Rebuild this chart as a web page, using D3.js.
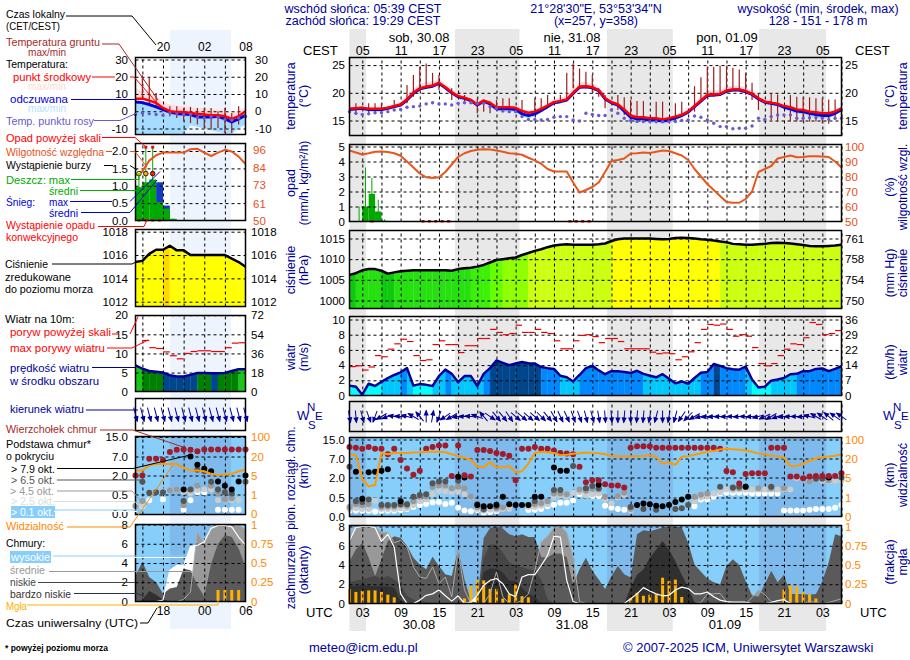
<!DOCTYPE html>
<html>
<head>
<meta charset="utf-8">
<script src="https://cdn.jsdelivr.net/npm/d3@7"></script>
<style>
body{margin:0;background:#fff}
svg{display:block}
text{font-family:"Liberation Sans",Arial,sans-serif}
</style>
</head>
<body>
<svg id="chart" width="910" height="660"></svg>
<script>
//---- main panel data, one value per hour from 01 UTC 30.08 ----
var localTicks = ['05','11','17','23','05','11','17','23','05','11','17','23','05'];
var utcTicks = ['03','09','15','21','03','09','15','21','03','09','15','21','03'];
var nights = [[0,2.6],[16.5,26.6],[40.3,50.6],[64.1,74.6]];

var temp = [17.1,17.2,17.3,17.1,17.1,17.1,17.3,17.6,17.9,18.8,
	20.0,20.8,21.1,21.3,21.8,21.0,20.1,19.4,19.1,18.7,
	17.9,18.6,18.2,17.4,17.4,17.4,17.3,16.7,16.4,16.6,
	17.1,17.7,18.3,18.5,18.8,20.0,21.1,21.2,21.0,20.5,
	19.0,18.3,17.9,17.0,15.9,15.6,15.6,15.4,15.4,15.2,
	15.4,15.7,16.0,16.6,17.6,18.6,19.6,19.7,19.8,20.4,
	20.6,20.6,20.3,19.8,19.0,18.4,18.2,18.0,17.6,17.4,
	17.0,16.9,16.6,16.5,16.3,16.3,16.6,17.2];
var tempHi = [17.4,17.5,17.6,17.4,17.4,17.4,17.7,18.0,18.4,19.5,
	20.8,21.6,21.9,22.1,22.5,21.7,20.7,19.9,19.5,19.0,
	18.2,18.9,18.5,17.7,17.7,17.7,17.6,17.0,16.8,17.0,
	17.6,18.2,18.8,19.1,19.5,20.8,21.9,22.0,21.7,21.1,
	19.5,18.7,18.3,17.3,16.2,15.9,15.9,15.7,15.7,15.5,
	15.7,16.1,16.5,17.2,18.3,19.4,20.4,20.5,20.6,21.1,
	21.3,21.3,21.0,20.4,19.5,18.9,18.7,18.4,18.0,17.7,
	17.3,17.2,16.9,16.8,16.6,16.6,17.0,17.6];
var feel = [17.0,17.1,17.2,17.0,17.0,17.0,17.2,17.5,17.8,18.7,
	19.9,20.7,21.0,21.2,21.7,20.9,20.0,19.3,19.0,18.6,
	17.8,18.5,18.0,17.1,17.1,17.1,17.0,16.2,15.9,16.2,
	16.8,17.5,18.2,18.4,18.7,19.9,21.0,21.1,20.9,20.4,
	18.9,18.2,17.8,16.7,15.6,15.3,15.3,15.1,15.1,14.9,
	15.1,15.5,15.9,16.5,17.5,18.5,19.5,19.6,19.7,20.3,
	20.5,20.5,20.2,19.7,18.9,18.3,18.1,17.9,17.4,17.1,
	16.7,16.6,16.3,16.1,15.9,15.9,16.3,17.0];
var feelLo = [16.6,16.7,16.8,16.6,16.6,16.6,16.9,17.2,17.5,18.4,
	19.6,20.4,20.7,20.9,21.4,20.6,19.7,19.0,18.7,18.3,
	17.5,18.2,17.6,16.7,16.6,16.6,16.5,15.7,15.4,15.7,
	16.4,17.2,17.9,18.1,18.4,19.6,20.7,20.8,20.6,20.1,
	18.6,17.9,17.5,16.3,15.1,14.8,14.8,14.6,14.6,14.4,
	14.6,15.0,15.5,16.2,17.2,18.2,19.2,19.3,19.4,20.0,
	20.2,20.2,19.9,19.4,18.6,18.0,17.7,17.5,17.0,16.6,
	16.2,16.1,15.8,15.6,15.4,15.4,15.9,16.6];
var dewPoint = [16.6,16.3,16.1,16.2,16.4,16.4,16.6,16.9,17.0,17.4,
	17.5,17.6,18.0,18.2,18.0,18.0,17.8,18.1,18.2,18.2,
	18.1,18.1,17.5,17.2,16.7,16.6,16.6,15.7,15.2,15.2,
	15.1,15.2,15.6,15.7,15.7,15.1,14.9,16.3,16.1,15.9,
	15.9,16.9,16.3,15.4,15.0,14.8,14.8,14.8,14.8,14.8,
	14.8,14.8,15.0,15.1,15.8,15.6,15.1,14.5,13.9,13.9,
	13.5,13.6,13.6,14.0,15.4,15.2,15.7,16.0,16.0,16.0,
	15.4,15.4,15.5,15.5,15.4,15.2,15.4,15.4];
// hour, max, min
var groundTemp = [[1,18.1,16.0],[3,18.1,16.3],[4,18.1,16.3],[5,18.1,16.6],[7,18.7,17.5],[9,21.4,18.1],[10,23.2,19.3],
	[11,24.7,20.8],[12,25.3,20.8],[13,23.6,21.1],[14,23.2,20.5],[16,20.8,18.7],[18,19.6,18.1],[20,19.0,16.3],
	[21,18.4,16.6],[22,18.4,16.3],[23,18.7,16.9],[24,19.0,16.9],[25,19.0,16.9],[27,18.7,16.0],[29,19.0,16.3],
	[30,19.0,16.9],[31,19.6,17.8],[33,19.6,18.7],[34,23.6,18.7],[35,25.3,20.8],[36,24.4,20.8],[37,23.8,20.8],
	[38,23.2,20.2],[39,20.8,19.3],[40,19.6,17.2],[42,19.6,16.9],[43,19.2,16.0],[44,18.7,14.8],[45,18.5,14.8],
	[46,18.5,14.8],[48,18.4,14.5],[49,18.4,14.5],[51,18.1,14.8],[52,18.4,16.0],[54,21.2,16.6],[55,22.8,18.7],
	[56,24.7,19.3],[57,24.7,19.3],[58,24.9,19.6],[59,24.9,20.2],[60,24.5,20.8],[61,24.2,20.5],[62,23.6,19.6],
	[63,21.8,18.7],[64,19.9,16.9],[66,19.9,15.1],[67,19.7,14.8],[69,19.6,14.8],[70,19.3,14.8],[71,19.3,14.8],
	[72,19.2,14.8],[73,19.0,14.8],[74,19.0,14.5],[75,18.8,14.4],[76,18.8,15.1],[77,17.4,16.0]];

var humidity = [97.3,96,94.7,95.5,96.5,96.7,96.3,95.5,93.8,90,
	86,82,79.5,79,79.5,83,88,93,95.5,97,
	97.8,98.2,98,97.3,96.5,95.5,95.2,94.5,92.5,90.7,
	88.5,85,83.3,83.3,83.3,76,69.3,71,73,76,
	83,90.4,91,92,95.3,95.5,96,95.7,96.5,97.3,
	97,95.5,94,91,85,80,75,71,67,63,
	62.5,62.5,65,70,83,85,87,92,93,94,
	92.8,93,93.5,93.5,93.3,93,90,86];
// hour, mean, max
var rain = [[1,0,1.0],[2,1.0,3.6],[3,1.85,2.9],[4,0.67,1.45],[5,0.05,0.15]];
var convective = [3,11,12,13,14,15,34,35,36,37];

var pressure = [1006.2,1006.6,1007.3,1007.6,1007.6,1007.2,1006.5,1006.8,1007.1,1007.2,
	1007.3,1007.3,1007.3,1007.3,1007.3,1007.3,1007.2,1007.6,1007.8,1007.9,
	1008.2,1008.6,1009.2,1009.8,1010,1010.2,1010.4,1011,1011.5,1012,
	1012.4,1012.9,1013.3,1013.5,1013.6,1013.5,1013.5,1013.5,1013.5,1013.6,
	1013.8,1014.4,1014.8,1015,1015,1015,1015,1015,1014.9,1014.8,
	1014.9,1015.1,1015.2,1015.1,1015,1014.8,1014.7,1014.5,1014.3,1014.1,
	1013.7,1013.6,1013.5,1013.5,1013.6,1013.7,1013.9,1014,1013.9,1013.8,
	1013.6,1013.4,1013.2,1013.1,1013.1,1013.2,1013.3,1013.5];

var wind = [1.3,1.15,0.1,1.55,1.25,1.8,2.3,2.7,3.05,3.6,
	1.3,1.5,1.4,1.25,2.55,3.4,2.85,1.75,2.55,2.55,
	1.25,2.85,3.6,4.6,4.3,4.0,4.2,4.4,4.25,4.2,
	3.75,3.6,3.5,2.6,2.4,1.85,2.7,3.6,3.9,3.3,
	2.8,3.2,3.2,3.1,2.95,3.25,2.85,2.6,2.4,2.8,
	2.2,1.6,1.85,1.55,2.3,3.0,3.1,4.15,3.9,3.6,
	3.45,3.4,3.8,2.1,1.05,1.15,1.95,2.1,2.3,2.8,
	2.85,3.2,3.2,3.5,3.55,3.2,3.5,3.85];
var gust = [3.8,3.9,3.35,3.75,5.25,5.1,6.1,6.8,7.4,7.1,
	5.25,4.6,4.7,6.7,7.2,6.7,6.7,5.65,6.55,6.55,
	7.5,7.5,8.7,8.3,8.0,8.15,9.25,8.3,8.3,8.7,
	8.3,8.15,7.2,6.15,6.15,7.2,7.9,8.0,7.75,6.95,
	7.5,7.5,7.1,6.15,6.15,6.15,6.15,5.7,5.5,5.6,
	5.5,4.7,5.1,5.75,6.95,8.7,9.35,9.25,9.4,8.7,
	7.8,8.0,7.8,6.3,4.2,3.9,4.2,5.25,6.1,6.8,
	6.7,7.6,9.6,9.35,8.0,8.15,8.55];
// bearing the arrow points to
var windTo = [170,175,165,160,200,240,250,280,275,285,
	300,320,0,10,200,235,240,260,270,275,
	290,320,125,140,140,145,130,130,130,130,
	135,140,150,155,155,160,160,165,165,170,
	175,175,180,185,180,185,185,190,195,180,
	190,195,215,225,240,255,262,265,268,268,
	270,265,270,265,255,245,240,250,262,268,
	270,265,285,300,305,310,305,305];

var cloudTop = [11.8,11.5,11.1,11.8,11.1,11.1,8.8,11.1,6.6,4.4,
	2.7,3.8,11.1,11.8,12.5,12.5,2.4,12.5,2.6,2.25,
	10.6,10.6,10.2,9.3,8.9,8.2,1.8,11.1,11.1,11.8,
	11.1,11.1,10.4,9.3,9.1,8.8,4.8,1.65,1.8,1.8,
	1.5,1.4,1.4,1.25,11.5,12.2,12.2,12.2,11.5,11.5,
	11.5,11.5,11.5,11.5,11.5,11.5,11.5,11.5,11.1,3.7,
	3.4,1.55,2.9,3.1,3.1,3.1,11.5,11.5,11.5,2.25,
	2.25,1.95,2.25,2.4,2.4,2.4,2.4,3.1];
// hour, cloud base in km
var base79 = [[1,3.5],[2,.47],[3,3.4],[4,3.5],[5,3.8],[6,4.15],[8,.4],[17,2.2],[18,2.0],[20,.3],[21,.27],[22,.27],[23,.31],
	[24,.55],[25,.32],[26,.3],[27,.3],[28,.3],[29,.55],[30,.55],[32,4.6],[33,3.8],[34,3.8],[39,1.45],[45,.3],[46,.34],
	[47,.32],[48,.28],[49,.27],[50,.3],[51,.38],[52,.45],[53,.55],[62,1.3],[75,2.0]];
var base65 = [[0,4.85],[1,.4],[2,.38],[3,.45],[5,.3],[6,.3],[7,.3],[8,.32],[9,.32],[10,.55],[11,.68],[12,.75],[13,1.57],
	[14,1.7],[15,1.7],[17,1.75],[20,.32],[21,.2],[23,.27],[29,.4],[32,1.06],[33,1.06],[35,5.0],[37,1.2],[38,1.37],[39,1.2],
	[44,.25],[46,.2],[48,.18],[51,.2],[52,.22],[53,.3],[58,1.3],[60,1.25],[61,1.3],[62,1.3],[66,1.3],[73,1.9],[74,1.9],[77,2]];
var base45 = [[0,.25],[1,.32],[2,.3],[3,.32],[5,.25],[6,.26],[7,.26],[8,.3],[9,.28],[10,.4],[11,.55],[12,.58],[13,1.3],
	[14,1.4],[15,1.4],[16,1.2],[17,1.3],[18,1.2],[19,.55],[20,.25],[21,.18],[23,.22],[24,.24],[28,.3],[29,.32],[30,.35],
	[31,.4],[32,.8],[33,.8],[34,.75],[36,1.1],[37,1.0],[38,1.15],[39,1.1],[40,.55],[42,.6],[43,.85],[44,.2],[54,.55],
	[55,.7],[56,.8],[60,1.2],[61,1.2],[64,1.2],[66,1.2],[68,1.2],[72,1.7],[75,1.8]];
var base25 = [[0,.2],[1,.22],[2,.2],[3,.2],[4,.42],[5,.2],[6,.2],[7,.2],[8,.22],[9,.22],[10,.3],[11,.4],[12,.45],[13,.75],
	[14,1.0],[15,.95],[16,.9],[17,.95],[18,.75],[19,.5],[20,.2],[21,.15],[22,.18],[23,.18],[24,.2],[25,.2],[28,.25],[29,.25],
	[30,.28],[31,.32],[32,.55],[33,.65],[34,.6],[35,.85],[36,.9],[37,.65],[38,.75],[39,.8],[40,.45],[41,.35],[42,.5],[43,.7],
	[44,.15],[54,.4],[55,.5],[56,.55],[57,.8],[58,.9],[59,1.1],[60,1.05],[61,1.1],[62,1.1],[63,1.1],[64,1.1],[65,1.1],
	[66,1.1],[67,1.1],[68,1.1],[69,1.1],[70,1.95],[72,1.8],[74,1.75],[75,1.75],[76,1.75],[77,1.8]];
var base01 = [[0,.15],[1,.15],[2,.15],[3,.15],[4,.13],[5,.15],[6,.15],[7,.15],[8,.17],[9,.2],[10,.25],[11,.3],[12,.33],[13,.37],
	[14,.38],[15,.33],[16,.36],[17,.23],[18,.16],[19,.14],[20,.17],[21,.1],[22,.12],[23,.14],[28,.17],[29,.18],[30,.2],
	[31,.27],[32,.31],[33,.36],[34,.36],[35,.42],[36,.72],[37,.68],[38,.62],[39,.6],[40,.28],[41,.23],[42,.2],[43,.18],
	[54,.27],[55,.45],[56,.45],[57,.55],[58,.8],[59,.85],[60,.85],[61,.85],[62,.85],[63,.8],[64,.8],[65,.8],[66,.8],[67,.8],
	[68,.16],[69,.16],[70,.16],[71,.16],[72,.18],[73,.2],[74,.2],[75,.2],[76,.23],[77,.3]];
var visibility = [37,34,4.7,3.2,3.5,43,38,43,43,43,
	45,46,48,48,48,46,38,31,23,19,
	13.5,13,17,13,13,14,9,10,16,43,
	48,46,43,34,36,40,42,45,43,42,
	38,30,29,28,30,30,31,34,27,16,
	17,15,27,30,36,42,48,52,58,61,
	59,57,54,48,41,37,32,30,23,14,
	14,16,18,21,25,28,32,37];

var coverHigh = [6.55,7.9,8,8,7.9,6.45,7.2,5.85,1.0,0,
	0,.35,.85,1.0,1.4,.8,.25,.8,0,.15,
	.85,1.9,2.4,2.6,2.05,1.0,.7,2.75,3.0,3.0,
	3.95,5,7,6.9,2.4,.2,0,0,0,0,
	0,0,0,0,.5,1,1.65,1.3,1,.8,
	.85,1.4,1.7,1.55,1,1,1.2,.7,.35,.2,
	.15,.15,.15,0,0,0,.1,.3,.4,0,
	0,0,0,0,0,0,0,0];
var coverMid = [6.9,7.9,8,8,8,7.4,7.4,6.3,6.55,5.9,
	3.8,2.75,2.6,3.8,2.05,2.75,.7,5.5,1.4,0,
	0,0,1,3.3,.7,0,0,.35,1,3.45,
	6.4,7,7.9,8,7.4,4.8,.2,0,0,0,
	0,0,0,0,0,0,0,0,0,0,
	0,0,0,0,0,.1,1,1,1.05,.2,
	0,0,0,.6,1.4,.9,.2,.1,0,0,
	0,0,.2,.1,0,.1,.3,.5];
var coverLow = [4.4,5.6,6.3,4.75,2.85,4.6,6.5,7.0,6.8,6.0,
	4.75,4.05,3.55,4.85,3.9,3.05,2.85,5.6,2.5,.2,
	.1,6.8,7.85,8,7.8,7.2,7.0,7.2,6.9,6.9,
	4.8,4.8,5.2,5.2,4.8,1.9,3.55,4.75,3.4,2.5,
	1.5,2.85,3.9,3.05,2.7,7.2,7.6,7.5,7.7,7.9,
	8,8,7.9,6.3,4.05,3.3,2.6,2.2,2.0,3.9,
	4.6,4.0,2.3,.85,.7,2.0,3.4,2.2,3.0,1.0,
	1.0,1.0,.9,1.0,2.3,4.3,7.2,7.0];
var coverLower = [2.2,2.4,2.5,2.7,2.85,2.6,2.85,2.5,2.0,.8,
	.4,.3,.1,0,0,0,0,0,0,0,
	0,4.75,6.1,6.1,5.3,4.25,3.9,3.8,3.55,3.4,
	2.5,.45,0,0,0,0,0,0,0,0,
	0,0,0,0,0,0,0,0,0,0,
	0,0,0,0,0,0,0,0,0,0,
	0,0,0,0,0,0,0,0,0,0,
	0,0,0,0,0,0,0,0];
var coverVeryLow = [1.75,1.85,1.9,1.85,1.8,1.8,1.8,1.6,.3,0,
	0,0,0,0,0,0,0,0,0,0,
	0,3.3,3.6,3.6,3.2,2.4,2.3,1.6,1.0,.7,
	0,0,0,0,0,0,0,0,0,0,
	0,0,0,0,1.65,3,3.55,4.75,5.6,6.5,
	5.6,4.4,3,1.65,.1,0,0,0,0,0,
	0,0,0,0,0,0,0,0,0,0,
	0,0,0,0,0,0,0,0];
// hour, fog fraction
var fog = [[0,.19],[1,.15],[2,.165],[3,.17],[4,.17],[5,.15],[6,.115],[7,.08],[18,.065],[19,.225],[20,.3],[21,.3],[22,.19],
	[23,.19],[24,.065],[25,.12],[26,.25],[27,.095],[28,.08],[44,.065],[45,.14],[46,.1],[47,.115],[48,.12],[49,.335],
	[50,.29],[51,.31],[52,.085],[68,.18],[69,.24],[70,.225],[71,.15],[72,.12],[73,.065]];

//---- left legend panel data, one value per hour from 14 UTC 29.08 ----
var tempL = [7.3,7.3,6.2,4.8,1.9,0,-0.4,-0.4,-1,-1.5,-1.9,-2.3,-2.3,-2.9,-4.4,-2.9,0];
var tempHiL = [13.5,11.6,10.6,8.7,5.8,3.9,3.4,2.9,2.5,1.9,1.9,1.4,1.0,1.0,-1,0.5,1.9];
var feelL = [5.4,5.0,3.9,2.5,1,-.4,-1.4,-1.6,-1.9,-3.3,-3.3,-3.3,-2.9,-4.4,-6.2,-4.4,-2.3];
var feelLoL = [-13,-13,-13,-13,-13,-13,-13,-13,-8,-9,-10,-11,-12,-12.8,-13,-10,-7.7];
var dewL = [-1.9,-1,-1.5,-1.9,-2.3,-1,-1.5,-1.9,-1.9,-3.5,-3.9,-3.3,-3.5,-4.8,-5.2,-3.9,-3];
var groundL = [[1,20.9,6.8],[2,19.3,4.8],[3,10.6,2.9],[5,2.9,-2.9],[6,2.9,-3.9],[7,1.9,-5.8],[8,2.5,-6.8],[9,1.9,-7.7],
	[10,1.9,-9.7],[11,1.9,-10.6],[12,0,-9.7],[13,1.9,-12.6],[14,-1,-12.6],[15,2.9,-7.7]];
var humidityL = [79.6,82,89,92.5,94.2,94.2,94.2,94.2,96.4,96.7,94.2,92,94.2,96,94.9,91.6,86.8];
var rainL = [[0,.96,1.35],[1,1.1,2.12],[2,1.18,2.12],[3,.53,.53],[4,.34,.34],[5,.05,.05]];
var snowL = [[3,1.1],[4,.43]];
var aboveScaleL = [1,2];
var stormsL = [[0,'#ffff00'],[1,'#ffaa00'],[2,'#ff2200']];
var convectiveL = [0,1,2,3];
var pressureL = [1015.4,1015.5,1016.1,1016.45,1016.45,1016.8,1016.4,1016.4,1016,1016,1016,1016,1016,1016,1015.7,1015.4,1015];
var windL = [6.9,6,5.4,5.2,5,4.3,4,4,4.4,4.9,4.9,4.8,4.8,4.9,5.4,5.9,5.9];
var gustL = [null,13.4,11.5,11.3,10.4,9.4,8.6,10,10.5,10.7,10.7,10.5,10.5,11.5,12.7,12.8];
var windToL = [165,165,165,165,165,165,165,165,165,165,165,165,165,165,165,165,165];
var cloudTopL = [2,2,6.4,6.4,6.1,8.8,9.75,9.9,9.75,9.2,9.9,9.9,9.9,9.9,9.9,9.9,9.9];
var base79L = [[7,.89],[8,7],[9,4.8],[10,3.75],[11,3.1],[12,1.53],[13,1.2],[14,.9],[15,1.53],[16,2]];
var base65L = [[1,1.5],[2,.63],[3,.68],[4,.68],[7,.33],[8,.9],[9,3.5],[10,3.1],[11,1.5],[12,.9],[13,.68],[14,.57],[16,1.5]];
var base45L = [[0,.2],[1,.33],[5,.83],[6,.9],[7,.22],[9,1.2],[11,1.2],[12,.57],[13,.37],[14,.4]];
var base25L = [[0,.2],[1,.22],[3,.68],[4,.75],[5,.86],[6,.9],[7,.7],[8,.57],[9,.85],[10,.9],[11,.9],[12,.35],[13,.35],[14,.35],[15,.35]];
var base01L = [[1,.2],[2,.35],[4,.37],[7,.1],[8,.35],[9,.68],[10,.68],[12,.1],[13,.1],[14,.1],[15,.1]];
var visibilityL = [9,9,13,14,14,14,14,11,9,9,8.4,6.3,5.5,5.8,6.3,8.4,9.5];
var coverHighL = [0,0,0,0,.15,3.25,3.75,3.75,5.7,5.85,6.2,7.6,7.9,7.9,7.75,6.7,5.85];
var coverMidL = [0,0,0,0,0,0,0,.2,1,7.2,6,7.7,7.9,8,8,7.9,7.5];
var coverLowL = [2.7,4.1,2.55,2,.8,1.35,1.5,3.4,3.25,1.7,.5,3.95,6,6.9,6.7,5.5,3.6];
var coverVeryLowL = [0,.1,1.1,.7,.2,0,0,0,0,0,0,0,0,0,0,0,0];
var fogL = [[12,.15],[13,.15],[14,.15],[15,.15]];

var svg = d3.select('#chart');

//---- scales ----
var x = d3.scaleLinear().domain([0,77]).range([349.5,841.5]);
var xL = d3.scaleLinear().domain([0,16]).range([135.5,245.5]);

var main = {
	x:x, xTicks:d3.range(2,78,3),
	temp:d3.scaleLinear().domain([15,25]).range([120.5,65.1]),
	rh:d3.scaleLinear().domain([50,100]).range([221.5,146.5]),
	rain:d3.scaleLinear().domain([0,5]).range([221.5,146.5]),
	pres:d3.scaleLinear().domain([1000,1015]).range([300.5,238.5]),
	wind:d3.scaleLinear().domain([0,10]).range([395.5,319.5]),
	cloud:d3.scaleLinear().domain([0,.5,2,7,15]).range([516.5,497.5,477.5,458.5,439.5]),
	vis:d3.scaleLinear().domain([0,1,5,20,100]).range([516.5,497.5,477.5,458.5,439.5]),
	cover:d3.scaleLinear().domain([0,8]).range([603.5,526.5]),
	fog:d3.scaleLinear().domain([0,1]).range([603.5,526.5]),
	boxes:{t:[57.5,135.5],r:[144.5,221.5],p:[230.5,308.5],w:[316.5,395.5],d:[401.5,431.5],c:[437.5,516.5],o:[525.5,603.5]},
	dirY:416.5, arrow:12, dot:3
};
var left = {
	x:xL, xTicks:[1,4,7,10,13],
	temp:d3.scaleLinear().domain([-10,30]).range([128.5,59.5]),
	rh:d3.scaleLinear().domain([50,100]).range([220.5,143.7]),
	rain:d3.scaleLinear().domain([0,2]).range([220.5,151]),
	pres:d3.scaleLinear().domain([1012,1018]).range([301.7,231.7]),
	wind:d3.scaleLinear().domain([0,20]).range([391.7,315.2]),
	cloud:d3.scaleLinear().domain([0,.5,2,7,15]).range([513.5,494.5,475.5,456.5,437]),
	vis:d3.scaleLinear().domain([0,1,5,20,100]).range([513.5,494.5,475.5,456.5,437]),
	cover:d3.scaleLinear().domain([0,8]).range([601.5,524.5]),
	fog:d3.scaleLinear().domain([0,1]).range([601.5,524.5]),
	boxes:{t:[57.5,134.5],r:[143.5,220.5],p:[229.5,306.5],w:[315.5,391.5],d:[398.5,430.5],c:[436.5,514.5],o:[524.5,601.5]},
	dirY:414.5, arrow:14, dot:3
};
var pressColor = d3.scaleThreshold()
	.domain([1006.9,1007.9,1009,1010,1011.3,1014.35,1016.62])
	.range(['#10c810','#26e010','#3cf008','#66ff00','#90ff00','#ccff10','#ffff00','#ffd800']);
var windColor = d3.scaleThreshold()
	.domain([1.7,3,3.95,4.85,5.8])
	.range(['#00ffff','#00c8ff','#0088ff','#00468c','#008000','#18c818']);

//---- helpers ----
function txt(px,py,s,color,anchor,size,width){
	var t = svg.append('text').attr('x',px).attr('y',py).text(s)
		.attr('fill',color||'#000').attr('text-anchor',anchor||'start').attr('font-size',size||12);
	if(width) t.attr('textLength',width).attr('lengthAdjust','spacingAndGlyphs');
	return t;
}
// legend text squeezed to the width it has in the original
function leg(px,py,s,width,color){
	return txt(px,py,s,color,'start',11,width);
}
function vtxt(px,py,s,color,size){
	return svg.append('text').attr('transform','translate('+px+','+py+') rotate(-90)').text(s)
		.attr('fill',color||'#000099').attr('text-anchor','middle').attr('font-size',size||12.5);
}
function lead(points,color,w){
	svg.append('path').attr('d',d3.line()(points)).attr('fill','none').attr('stroke',color).attr('stroke-width',w||1);
}
function valueAxis(axisFn,scale,values,px,color,fmt){
	var g = svg.append('g').attr('transform','translate('+px+',0)')
		.call(axisFn(scale).tickValues(values).tickSize(0).tickPadding(0).tickFormat(fmt||function(d){return d;}));
	g.select('.domain').remove();
	g.attr('font-size',11.5).attr('font-family','"Liberation Sans",Arial,sans-serif');
	g.selectAll('text').attr('fill',color||'#000');
}
function timeAxis(scale,values,labels,py,size){
	var g = svg.append('g').attr('transform','translate(0,'+py+')')
		.call(d3.axisTop(scale).tickValues(values).tickSize(0).tickPadding(0)
			.tickFormat(function(d,i){return labels[i];}));
	g.select('.domain').remove();
	g.attr('font-size',size).attr('font-family','"Liberation Sans",Arial,sans-serif');
	g.selectAll('text').attr('fill','#000');
}
function grid(p,box,yScale,yTicks){
	var b = p.boxes[box];
	var g = svg.append('g');
	g.append('g').attr('transform','translate(0,'+b[1]+')')
		.call(d3.axisBottom(p.x).tickValues(p.xTicks).tickSize(-(b[1]-b[0])).tickFormat(''));
	if(yScale){
		g.append('g').attr('transform','translate('+p.x.range()[0]+',0)')
			.call(d3.axisLeft(yScale).tickValues(yTicks).tickSize(-(p.x.range()[1]-p.x.range()[0])).tickFormat(''));
	}
	g.selectAll('.domain').remove();
	g.selectAll('line').attr('stroke','#000').attr('stroke-dasharray','3,3').attr('stroke-width',1);
}
function frame(p,box){
	var b = p.boxes[box], r = p.x.range();
	svg.append('rect').attr('x',r[0]).attr('y',b[0]).attr('width',r[1]-r[0]).attr('height',b[1]-b[0])
		.attr('fill','none').attr('stroke','#000').attr('stroke-width',1.5);
}
function lineOf(p,data,yScale,color,w){
	svg.append('path').datum(data)
		.attr('d',d3.line().x(function(d,i){return p.x(i);}).y(function(d){return yScale(d);}))
		.attr('fill','none').attr('stroke',color).attr('stroke-width',w).attr('stroke-linejoin','round');
}
function bandOf(p,hi,lo,yScale,color){
	svg.append('path').datum(hi)
		.attr('d',d3.area().x(function(d,i){return p.x(i);}).y0(function(d,i){return yScale(lo[i]);}).y1(function(d){return yScale(d);}))
		.attr('fill',color);
}
function areaOf(p,data,yScale,color){
	svg.append('path').datum(data)
		.attr('d',d3.area().x(function(d,i){return p.x(i);}).y0(yScale.range()[0]).y1(function(d){return yScale(d);}))
		.attr('fill',color);
}
// one coloured slab per hour under a line, down to the panel bottom
function slabs(p,data,yScale,bottom,colorFn){
	d3.range(data.length-1).forEach(function(i){
		var seg = [[i,data[i]],[i+1,data[i+1]]];
		var c = colorFn((data[i]+data[i+1])/2);
		svg.append('path').datum(seg)
			.attr('d',d3.area().x(function(d){return p.x(d[0]);}).y0(bottom).y1(function(d){return yScale(d[1]);}))
			.attr('fill',c).attr('stroke',c).attr('stroke-width',.3);
	});
}
function dots(p,rows,yScale,color){
	svg.append('g').selectAll('circle').data(rows).enter().append('circle')
		.attr('cx',function(d){return p.x(d[0]);}).attr('cy',function(d){return yScale(d[1]);})
		.attr('r',p.dot).attr('fill',color);
}

//---- background bands ----
nights.forEach(function(n){
	svg.append('rect').attr('x',x(n[0])).attr('y',29).attr('width',x(n[1])-x(n[0])).attr('height',602).attr('fill','#e8e8e8');
});
svg.append('rect').attr('x',xL(5)).attr('y',30).attr('width',xL(13.9)-xL(5)).attr('height',599).attr('fill','#eef4fd');

//---- draw one full stack of panels ----
function drawPanels(p,d){
	var xr = p.x.range(), b = p.boxes;

	// temperature
	bandOf(p,d.tempHi,d.temp,p.temp,'#ffdde0');
	bandOf(p,d.feel,d.feelLo,p.temp,'#a6dcff');
	grid(p,'t',p.temp,d.tempTicks);
	svg.append('g').selectAll('line').data(d.ground).enter().append('line')
		.attr('x1',function(r){return p.x(r[0]);}).attr('x2',function(r){return p.x(r[0]);})
		.attr('y1',function(r){return p.temp(r[1]);}).attr('y2',function(r){return p.temp(r[2]);})
		.attr('stroke','#a01c1c').attr('stroke-width',1.2);
	lineOf(p,d.feel,p.temp,'#0000e0',3);
	lineOf(p,d.temp,p.temp,'#ff0000',2.5);
	svg.append('g').selectAll('circle').data(d.dew).enter().append('circle')
		.attr('cx',function(v,i){return p.x(i);}).attr('cy',function(v){return p.temp(v);})
		.attr('r',1.7).attr('fill','#6a5acd');
	frame(p,'t');

	// precipitation
	(d.snow||[]).forEach(function(s){
		svg.append('rect').attr('x',p.x(s[0])).attr('y',p.rain(s[1])).attr('width',p.x(1)-p.x(0)).attr('height',p.rain(0)-p.rain(s[1])).attr('fill','#1438c8');
	});
	svg.append('g').selectAll('rect').data(d.rain).enter().append('rect')
		.attr('x',function(r){return p.x(r[0]);}).attr('width',p.x(1)-p.x(0))
		.attr('y',function(r){return p.rain(r[1]);}).attr('height',function(r){return p.rain(0)-p.rain(r[1]);})
		.attr('fill','#00aa00');
	grid(p,'r',p.rain,d.rainTicks);
	svg.append('g').selectAll('line').data(d.rain).enter().append('line')
		.attr('x1',function(r){return p.x(r[0]+.5);}).attr('x2',function(r){return p.x(r[0]+.5);})
		.attr('y1',p.rain(0)).attr('y2',function(r){return p.rain(r[2]);})
		.attr('stroke','#00aa00').attr('stroke-width',1);
	lineOf(p,d.rh,p.rh,'#e8561c',2);
	svg.append('g').selectAll('rect').data(d.conv).enter().append('rect')
		.attr('x',function(h){return p.x(h+.5)-1.5;}).attr('y',p.rain(0)-1.5).attr('width',3).attr('height',2.5)
		.attr('fill','#e01010');
	(d.above||[]).forEach(function(h){
		svg.append('rect').attr('x',p.x(h+.5)-1.5).attr('y',p.rh.range()[1]+2).attr('width',3).attr('height',3).attr('fill','#e01010');
	});
	(d.storms||[]).forEach(function(s){
		svg.append('circle').attr('cx',p.x(s[0]+.5)).attr('cy',p.rain(1.35)).attr('r',2.3)
			.attr('fill',s[1]).attr('stroke','#000').attr('stroke-width',.8);
	});
	frame(p,'r');

	// pressure
	slabs(p,d.pres,p.pres,b.p[1],pressColor);
	grid(p,'p',p.pres,d.presTicks);
	lineOf(p,d.pres,p.pres,'#000',2.5);
	frame(p,'p');

	// wind
	slabs(p,d.wind,p.wind,b.w[1],windColor);
	grid(p,'w',p.wind,d.windTicks);
	lineOf(p,d.wind,p.wind,'#000099',2.5);
	d.gust.forEach(function(v,i){
		if(v===null) return;
		svg.append('line').attr('x1',p.x(i)).attr('x2',p.x(i+1)).attr('y1',p.wind(v)).attr('y2',p.wind(v))
			.attr('stroke','#ee0000').attr('stroke-width',1.2);
	});
	frame(p,'w');

	// wind direction
	grid(p,'d');
	frame(p,'d');
	var arrows = svg.append('g').selectAll('g').data(d.dir).enter().append('g')
		.attr('transform',function(v,i){return 'translate('+p.x(i)+','+p.dirY+') rotate('+v+')';});
	arrows.append('line').attr('x1',0).attr('x2',0).attr('y1',p.arrow/2).attr('y2',-p.arrow/2)
		.attr('stroke','#000099').attr('stroke-width',1);
	arrows.append('path').attr('d','M0,'+(-p.arrow/2-1)+'L2.6,'+(-p.arrow/2+5)+'L-2.6,'+(-p.arrow/2+5)+'Z').attr('fill','#000099');

	// cloud base and visibility
	svg.append('rect').attr('x',xr[0]).attr('y',b.c[0]).attr('width',xr[1]-xr[0]).attr('height',b.c[1]-b.c[0]).attr('fill','#87cefa');
	d.night.forEach(function(n){
		svg.append('rect').attr('x',p.x(n[0])).attr('y',b.c[0]).attr('width',p.x(n[1])-p.x(n[0])).attr('height',b.c[1]-b.c[0]).attr('fill','#7fbaec');
	});
	grid(p,'c',p.cloud,[.5,2,7,15]);
	dots(p,d.b01,p.cloud,'#fff');
	dots(p,d.b25,p.cloud,'#cccccc');
	dots(p,d.b45,p.cloud,'#999999');
	dots(p,d.b65,p.cloud,'#555555');
	dots(p,d.b79,p.cloud,'#000');
	dots(p,d.top.map(function(v,i){return [i,v];}),p.cloud,'#a01c2c');
	lineOf(p,d.vis,p.vis,'#ff9900',2);
	frame(p,'c');

	// cloud cover and fog
	svg.append('rect').attr('x',xr[0]).attr('y',b.o[0]).attr('width',xr[1]-xr[0]).attr('height',b.o[1]-b.o[0]).attr('fill','#87cefa');
	d.night.forEach(function(n){
		svg.append('rect').attr('x',p.x(n[0])).attr('y',b.o[0]).attr('width',p.x(n[1])-p.x(n[0])).attr('height',b.o[1]-b.o[0]).attr('fill','#7fbaec');
	});
	areaOf(p,d.high,p.cover,'#ffffff');
	areaOf(p,d.mid,p.cover,'#999999');
	areaOf(p,d.low,p.cover,'#5a5a5a');
	if(d.lower) areaOf(p,d.lower,p.cover,'#454545');
	areaOf(p,d.vlow,p.cover,'#303030');
	svg.append('g').selectAll('rect').data(d.fog).enter().append('rect')
		.attr('x',function(r){return p.x(r[0])-1.5;}).attr('width',3)
		.attr('y',function(r){return p.fog(r[1]);}).attr('height',function(r){return p.fog(0)-p.fog(r[1]);})
		.attr('fill','#ffb000');
	grid(p,'o',p.cover,[2,4,6,8]);
	lineOf(p,d.mid,p.cover,'#aaaaaa',1);
	lineOf(p,d.high,p.cover,'#ffffff',1.2);
	frame(p,'o');
}

drawPanels(main,{
	temp:temp,tempHi:tempHi,feel:feel,feelLo:feelLo,dew:dewPoint,ground:groundTemp,tempTicks:[15,20,25],
	rh:humidity,rain:rain,conv:convective,rainTicks:[1,2,3,4,5],
	pres:pressure,presTicks:[1000,1005,1010,1015],
	wind:wind,gust:gust,windTicks:[2,4,6,8,10],dir:windTo,
	night:nights,top:cloudTop,b79:base79,b65:base65,b45:base45,b25:base25,b01:base01,vis:visibility,
	high:coverHigh,mid:coverMid,low:coverLow,lower:coverLower,vlow:coverVeryLow,fog:fog
});
drawPanels(left,{
	temp:tempL,tempHi:tempHiL,feel:feelL,feelLo:feelLoL,dew:dewL,ground:groundL,tempTicks:[-10,0,10,20,30],
	rh:humidityL,rain:rainL,snow:snowL,above:aboveScaleL,storms:stormsL,conv:convectiveL,rainTicks:[.5,1,1.5,2],
	pres:pressureL,presTicks:[1012,1014,1016,1018],
	wind:windL,gust:gustL,windTicks:[5,10,15,20],dir:windToL,
	night:[[5,13.9]],top:cloudTopL,b79:base79L,b65:base65L,b45:base45L,b25:base25L,b01:base01L,vis:visibilityL,
	high:coverHighL,mid:coverMidL,low:coverLowL,vlow:coverVeryLowL,fog:fogL
});

//---- axes with labels ----
var one = d3.format('.1f');
var mm = function(v){return Math.round(v*0.75006);};
var kmh = function(v){return Math.round(v*3.6);};
var orange = '#ff8800', rhOrange = '#e8501a';

// main left and right
valueAxis(d3.axisLeft,main.temp,[15,20,25],345);
valueAxis(d3.axisRight,main.temp,[15,20,25],845);
valueAxis(d3.axisLeft,main.rain,[0,1,2,3,4,5],345);
valueAxis(d3.axisRight,main.rh,[50,60,70,80,90,100],845,rhOrange);
valueAxis(d3.axisLeft,main.pres,[1000,1005,1010,1015],345);
valueAxis(d3.axisRight,main.pres,[1000,1005,1010,1015],845,'#000',mm);
valueAxis(d3.axisLeft,main.wind,[0,2,4,6,8,10],345);
valueAxis(d3.axisRight,main.wind,[0,2,4,6,8,10],845,'#000',kmh);
valueAxis(d3.axisLeft,main.cloud,[0,.5,2,7,15],345,'#000',one);
valueAxis(d3.axisRight,main.vis,[0,1,5,20,100],845,orange);
valueAxis(d3.axisLeft,main.cover,[0,2,4,6,8],345);
valueAxis(d3.axisRight,main.fog,[0,.25,.5,.75,1],845,orange);

// legend panel left and right
valueAxis(d3.axisLeft,left.temp,[-10,0,10,20,30],128);
valueAxis(d3.axisRight,left.temp,[-10,0,10,20,30],255);
valueAxis(d3.axisLeft,left.rain,[0,.5,1,1.5,2],128,'#000',one);
valueAxis(d3.axisRight,left.rh,[50,61,73,84,96],253,rhOrange);
valueAxis(d3.axisLeft,left.pres,[1012,1014,1016,1018],128);
valueAxis(d3.axisRight,left.pres,[1012,1014,1016,1018],251);
valueAxis(d3.axisLeft,left.wind,[0,5,10,15,20],128);
valueAxis(d3.axisRight,left.wind,[0,5,10,15,20],251,'#000',kmh);
valueAxis(d3.axisLeft,left.cloud,[0,.5,2,7,15],128,'#000',one);
valueAxis(d3.axisRight,left.vis,[0,1,5,20,100],251,orange);
valueAxis(d3.axisLeft,left.cover,[0,2,4,6,8],128);
valueAxis(d3.axisRight,left.fog,[0,.25,.5,.75,1],251,orange);

// time axes
timeAxis(x,d3.range(2,78,6),localTicks,55,12.5);
timeAxis(x,d3.range(2,78,6),utcTicks,617,12.5);
timeAxis(xL,[4,10,16],['20','02','08'],51,12);
timeAxis(xL,[4,10,16],['18','00','06'],615,12);

//---- header and footer ----
var navy = '#000099';
txt(363,13,'wschód słońca: 05:39 CEST',navy,'middle',12.5);
txt(363,25,'zachód słońca: 19:29 CEST',navy,'middle',12.5);
txt(596,13,'21°28\'30"E, 53°53\'34"N',navy,'middle',12.5);
txt(596,25,'(x=257,  y=358)',navy,'middle',12.5);
txt(818,13,'wysokość (min, środek, max)',navy,'middle',12.5);
txt(818,25,'128 - 151 - 178 m',navy,'middle',12.5);
txt(419,42,'sob, 30.08','#000','middle',13);
txt(572,42,'nie, 31.08','#000','middle',13);
txt(727,42,'pon, 01.09','#000','middle',13);
txt(303,55,'CEST','#000','start',13);
txt(855,55,'CEST','#000','start',13);
txt(306,617,'UTC','#000','start',13);
txt(860,617,'UTC','#000','start',13);
txt(419,629,'30.08','#000','middle',13);
txt(572,629,'31.08','#000','middle',13);
txt(725,629,'01.09','#000','middle',13);
txt(309,652,'meteo@icm.edu.pl',navy,'start',13);
txt(623,652,'© 2007-2025 ICM, Uniwersytet Warszawski',navy,'start',13);
leg(5,651,'* powyżej poziomu morza',103).attr('font-size',9).attr('font-weight','bold');

//---- axis titles ----
vtxt(295,96,'temperatura'); vtxt(308,96,'(°C)');
vtxt(295,183,'opad'); vtxt(308,183,'(mm/h, kg/m²/h)',null,12);
vtxt(295,270,'ciśnienie'); vtxt(308,270,'(hPa)');
vtxt(295,357,'wiatr'); vtxt(308,357,'(m/s)');
vtxt(295,478,'pion. rozciągł. chm.',null,12); vtxt(308,476,'(km)');
vtxt(295,572,'zachmurzenie',null,12); vtxt(308,570,'(oktanty)');
vtxt(907,96,'temperatura'); vtxt(894,96,'(°C)');
vtxt(907,187,'wilgotność wzgl.',null,12); vtxt(894,187,'(%)');
vtxt(907,273,'ciśnienie'); vtxt(894,273,'(mm Hg)');
vtxt(907,362,'wiatr'); vtxt(894,362,'(km/h)');
vtxt(907,475,'widzialność'); vtxt(894,475,'(km)');
vtxt(907,562,'mgła'); vtxt(894,562,'(frakcja)');

[297,883].forEach(function(cx){
	txt(cx,420,'W',navy,'start',13);
	txt(cx+10,411,'N',navy,'start',11.5);
	txt(cx+18,420,'E',navy,'start',11.5);
	txt(cx+11,429,'S',navy,'start',11.5);
});

//---- legend texts and leader lines ----
var brown = '#a52a2a', red = '#ff0000', green = '#00aa00', blue = '#0000dd', slate = '#6a5acd';
leg(6,18,'Czas lokalny',59);
leg(6,30,'(CET/CEST)',54);
lead([[66,16],[132,16],[156,45]],'#000');
leg(6,46,'Temperatura gruntu',94,brown);
leg(28,56,'max/min',38,brown);
lead([[102,44],[119,44],[158,100]],brown);
leg(6,68,'Temperatura:',62);
leg(13,81,'punkt środkowy',78,red);
lead([[92,77],[115,77]],red);
lead([[130,77],[134,77],[157,103]],red);
leg(28,90,'max/min',38,'#ffd8d0');
leg(10,103,'odczuwana',58,blue);
lead([[71,99.5],[135,99.5]],blue);
leg(28,112,'max/min',38,'#b8e0ff');
leg(6,125,'Temp. punktu rosy',88,slate);
lead([[94,120.5],[120,120.5],[137,113]],slate);
leg(6,142,'Opad powyżej skali',95,red);
lead([[102,137.5],[135,137.5],[146,147]],red);
leg(6,156,'Wilgotność względna',98,rhOrange);
lead([[106,151.5],[112,151.5]],rhOrange);
lead([[130,151.5],[135,151.5],[147,167]],rhOrange);
leg(6,169,'Wystąpienie burzy',85);
lead([[104,165.5],[113,165.5]],'#000');
lead([[130,165.5],[137,170]],'#000');
leg(6,184,'Deszcz: max',64,green);
lead([[71,179.5],[139,179.5],[139,173]],green);
leg(49,195,'średni',29,green);
lead([[80,190.5],[146,190.5]],green);
leg(6,206,'Śnieg:',29,blue);
leg(49,206,'max',19,blue);
lead([[70,201.5],[112,201.5]],blue);
lead([[130,201.5],[160,171.5]],blue);
leg(49,217,'średni',29,blue);
lead([[81,212.5],[130,212.5],[157,180]],blue);
leg(6,229,'Wystąpienie opadu',89,red);
leg(6,241,'konwekcyjnego',72,red);
lead([[98,226.5],[144,226.5],[147,220]],red);
leg(5,268,'Ciśnienie',43);
leg(5,281,'zredukowane',66);
leg(5,293,'do poziomu morza',88);
lead([[52,264],[132,264],[136,262]],'#000');
leg(5,323,'Wiatr na',42);
txt(50,323,'10m:','#000','start',11).attr('font-family','"Liberation Serif",serif');
leg(10,336,'poryw powyżej skali',101,red);
lead([[112,334],[119,334]],red);
lead([[130,334],[138,317]],red);
leg(10,352,'max porywy wiatru',95,red);
lead([[107,348],[132,348],[148,340]],red);
leg(10,372,'prędkość wiatru',79,navy);
lead([[92,367.5],[135,367.5]],navy);
leg(10,385,'w środku obszaru',89,navy);
leg(10,413,'kierunek wiatru',74,navy);
lead([[86,410],[138,410]],navy);
leg(6,433,'Wierzchołek chmur',91,brown);
lead([[100,430],[133,430],[183,447]],brown);
leg(6,448,'Podstawa chmur*',85);
leg(6,460,'o pokryciu',48);
leg(11,473,'> 7.9 okt.',44);
lead([[57,468.5],[133,468.5],[190,455]],'#000');
leg(11,484,'> 6.5 okt.',44,'#555555');
lead([[57,480],[140,480]],'#555555');
leg(10,495,'> 4.5 okt.',44,'#999999');
lead([[57,491],[132,491],[142,502]],'#999999');
leg(11,505,'> 2.5 okt.',44,'#dddddd');
lead([[54,501.5],[135,501.5],[138,505]],'#dddddd');
svg.append('rect').attr('x',11).attr('y',506).attr('width',44).attr('height',12).attr('fill','#87cefa');
leg(11,516,'> 0.1 okt.',43,'#fff');
lead([[54,510],[137,510]],'#87cefa');
lead([[54,511.5],[137,511.5]],'#ffffff');
leg(6,530,'Widzialność',58,orange);
lead([[67,527],[130,527],[173,465]],orange);
leg(6,547,'Chmury:',39);
svg.append('rect').attr('x',10).attr('y',551).attr('width',41).attr('height',12).attr('fill','#87cefa');
leg(11,561,'wysokie',39,'#fff');
lead([[53,556],[186,556]],'#87cefa');
lead([[53,557.5],[186,557.5]],'#ffffff');
leg(10,574,'średnie',35,'#999999');
lead([[49,571.5],[192,571.5]],'#999999');
leg(10,586,'niskie',26,'#444444');
lead([[38,582.5],[135,582.5]],'#444444');
leg(10,598,'bardzo niskie',61,'#333333');
lead([[74,593.5],[137,593.5],[152,600]],'#333333');
leg(6,610,'Mgła',21,'#ffb000');
lead([[27,605],[218,605],[218,600]],'#ffb000');
leg(6,627,'Czas uniwersalny (UTC)',132);
lead([[140,623],[148,623],[157,608]],'#000');
</script>
</body>
</html>
